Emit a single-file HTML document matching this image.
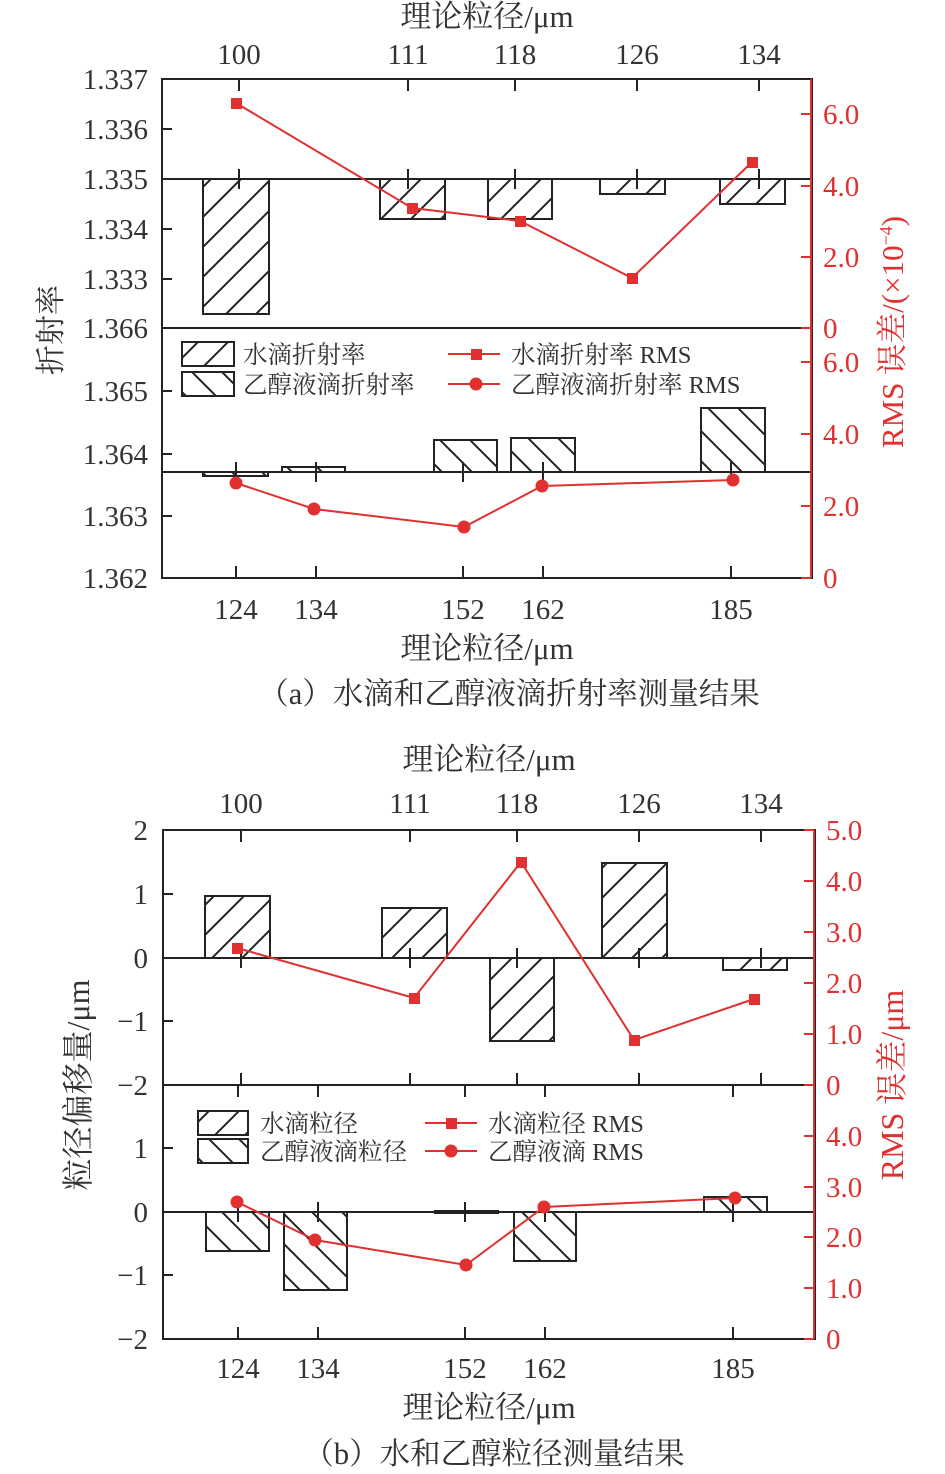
<!DOCTYPE html>
<html><head><meta charset="utf-8"><style>
html,body{margin:0;padding:0;background:#fff;}
svg{display:block;}
text{font-family:"Liberation Serif","Noto Serif CJK SC",serif;fill:#333;}
.r{fill:#e03030;}
</style></head><body>
<svg width="945" height="1474" viewBox="0 0 945 1474" xmlns="http://www.w3.org/2000/svg">
<defs>
<pattern id="hf" patternUnits="userSpaceOnUse" width="30" height="30">
<path d="M-2,32 L32,-2 M-15,15 L15,-15 M15,45 L45,15" stroke="#222" stroke-width="2"/>
</pattern>
<pattern id="hb" patternUnits="userSpaceOnUse" width="30" height="30">
<path d="M-2,-2 L32,32 M-15,15 L15,45 M15,-15 L45,15" stroke="#222" stroke-width="2"/>
</pattern>
</defs>

<!-- ========== Chart (a) ========== -->
<g stroke="#222" stroke-width="2" fill="none">
<rect x="162" y="79" width="650" height="499"/>
<line x1="162" y1="328" x2="812" y2="328"/>
<line x1="162" y1="179" x2="812" y2="179"/>
<line x1="162" y1="472" x2="812" y2="472"/>
<path d="M162,129h10M162,179h10M162,229h10M162,279h10M162,391h10M162,454h10M162,516h10"/>
<path d="M239,79v12M408,79v12M515,79v12M637,79v12M759,79v12"/>
<path d="M239,169v20M408,169v20M515,169v20M637,169v20M759,169v20"/>
<path d="M236,578v-12M316,578v-12M463,578v-12M543,578v-12M731,578v-12"/>
<path d="M236,462v20M316,462v20M463,462v20M543,462v20M731,462v20"/>
</g>
<g stroke="#222" stroke-width="2" fill="url(#hf)">
<rect x="203" y="179" width="66" height="135"/>
<rect x="380" y="179" width="65" height="40"/>
<rect x="488" y="179" width="64" height="40"/>
<rect x="600" y="179" width="65" height="15"/>
<rect x="720" y="179" width="65" height="25"/>
</g>
<g stroke="#222" stroke-width="2" fill="url(#hb)">
<rect x="203" y="472" width="65" height="4"/>
<rect x="282" y="467" width="63" height="5"/>
<rect x="434" y="440" width="63" height="32"/>
<rect x="511" y="438" width="64" height="34"/>
<rect x="701" y="408" width="64" height="64"/>
</g>
<g stroke="#e03030" stroke-width="2" fill="none">
<line x1="811" y1="79" x2="811" y2="578"/>
<path d="M811,114h-10M811,186h-10M811,257h-10M811,328h-10M811,362h-10M811,434h-10M811,506h-10M811,578h-10"/>
<polyline points="236,103 412,208 520,221 632,278 752,162"/>
<polyline points="236,483 314,509 464,527 542,486 733,480"/>
<line x1="448" y1="354" x2="500" y2="354"/>
<line x1="448" y1="384" x2="500" y2="384"/>
</g>
<g fill="#e03030">
<rect x="231" y="98" width="11" height="11"/><rect x="407" y="203" width="11" height="11"/><rect x="515" y="216" width="11" height="11"/><rect x="627" y="273" width="11" height="11"/><rect x="747" y="157" width="11" height="11"/>
<circle cx="236" cy="483" r="6.5"/><circle cx="314" cy="509" r="6.5"/><circle cx="464" cy="527" r="6.5"/><circle cx="542" cy="486" r="6.5"/><circle cx="733" cy="480" r="6.5"/>
<rect x="471" y="349" width="11" height="11"/><circle cx="476" cy="384" r="6.5"/>
</g>
<rect x="182" y="342" width="52" height="24" stroke="#222" stroke-width="2" fill="url(#hf)"/>
<rect x="182" y="372" width="52" height="24" stroke="#222" stroke-width="2" fill="url(#hb)"/>
<g font-size="24.5">
<text x="243" y="363">水滴折射率</text>
<text x="243" y="393">乙醇液滴折射率</text>
<text x="511" y="363">水滴折射率 RMS</text>
<text x="511" y="393">乙醇液滴折射率 RMS</text>
</g>
<g font-size="29" text-anchor="end">
<text x="148" y="89">1.337</text><text x="148" y="139">1.336</text><text x="148" y="189">1.335</text><text x="148" y="239">1.334</text><text x="148" y="289">1.333</text><text x="148" y="338">1.366</text><text x="148" y="401">1.365</text><text x="148" y="464">1.364</text><text x="148" y="526">1.363</text><text x="148" y="588">1.362</text>
</g>
<g font-size="29" text-anchor="middle">
<text x="239" y="64">100</text><text x="408" y="64">111</text><text x="515" y="64">118</text><text x="637" y="64">126</text><text x="759" y="64">134</text>
<text x="236" y="619">124</text><text x="316" y="619">134</text><text x="463" y="619">152</text><text x="543" y="619">162</text><text x="731" y="619">185</text>
<text x="487" y="27" font-size="31">理论粒径/μm</text>
<text x="487" y="659" font-size="31">理论粒径/μm</text>
<text x="509" y="704" font-size="30.5">（a）水滴和乙醇液滴折射率测量结果</text>
</g>
<g font-size="29">
<text class="r" x="823" y="124">6.0</text><text class="r" x="823" y="196">4.0</text><text class="r" x="823" y="267">2.0</text><text class="r" x="823" y="338">0</text><text class="r" x="823" y="372">6.0</text><text class="r" x="823" y="444">4.0</text><text class="r" x="823" y="516">2.0</text><text class="r" x="823" y="588">0</text>
</g>
<text x="61" y="330" font-size="30" text-anchor="middle" transform="rotate(-90 61 330)">折射率</text>
<text x="903" y="332" font-size="31" text-anchor="middle" class="r" transform="rotate(-90 903 332)">RMS 误差/(×10<tspan font-size="18" dy="-11">−4</tspan><tspan dy="11">)</tspan></text>

<!-- ========== Chart (b) ========== -->
<g stroke="#222" stroke-width="2" fill="none">
<rect x="163" y="830" width="652" height="509"/>
<line x1="163" y1="1085" x2="815" y2="1085"/>
<line x1="163" y1="958" x2="815" y2="958"/>
<line x1="163" y1="1212" x2="815" y2="1212"/>
<path d="M163,894h10M163,958h10M163,1021h10M163,1148h10M163,1275h10"/>
<path d="M241,830v12M410,830v12M517,830v12M639,830v12M761,830v12"/>
<path d="M241,948v20M410,948v20M517,948v20M639,948v20M761,948v20"/>
<path d="M241,1085v-12M410,1085v-12M517,1085v-12M639,1085v-12M761,1085v-12"/>
<path d="M238,1339v-12M318,1339v-12M465,1339v-12M545,1339v-12M733,1339v-12"/>
<path d="M238,1085v12M318,1085v12M465,1085v12M545,1085v12M733,1085v12"/>
<path d="M238,1202v20M318,1202v20M465,1202v20M545,1202v20M733,1202v20"/>
</g>
<g stroke="#222" stroke-width="2" fill="url(#hf)">
<rect x="205" y="896" width="65" height="62"/>
<rect x="382" y="908" width="65" height="50"/>
<rect x="490" y="958" width="64" height="83"/>
<rect x="602" y="863" width="65" height="95"/>
<rect x="723" y="958" width="64" height="12"/>
</g>
<g stroke="#222" stroke-width="2" fill="url(#hb)">
<rect x="206" y="1212" width="63" height="39"/>
<rect x="284" y="1212" width="63" height="78"/>
<rect x="435" y="1211" width="63" height="2"/>
<rect x="514" y="1212" width="62" height="49"/>
<rect x="704" y="1197" width="63" height="15"/>
</g>
<g stroke="#e03030" stroke-width="2" fill="none">
<line x1="814" y1="830" x2="814" y2="1339"/>
<path d="M814,830h-10M814,881h-10M814,932h-10M814,983h-10M814,1034h-10M814,1085h-10M814,1136h-10M814,1187h-10M814,1237h-10M814,1288h-10M814,1339h-10"/>
<polyline points="237,948 414,998 521,862 634,1040 754,999"/>
<polyline points="237,1202 315,1240 466,1265 544,1207 735,1198"/>
<line x1="425" y1="1123" x2="477" y2="1123"/>
<line x1="425" y1="1151" x2="477" y2="1151"/>
</g>
<g fill="#e03030">
<rect x="232" y="943" width="11" height="11"/><rect x="409" y="993" width="11" height="11"/><rect x="516" y="857" width="11" height="11"/><rect x="629" y="1035" width="11" height="11"/><rect x="749" y="994" width="11" height="11"/>
<circle cx="237" cy="1202" r="6.5"/><circle cx="315" cy="1240" r="6.5"/><circle cx="466" cy="1265" r="6.5"/><circle cx="544" cy="1207" r="6.5"/><circle cx="735" cy="1198" r="6.5"/>
<rect x="446" y="1118" width="11" height="11"/><circle cx="451" cy="1151" r="6.5"/>
</g>
<rect x="198" y="1111" width="50" height="24" stroke="#222" stroke-width="2" fill="url(#hf)"/>
<rect x="198" y="1139" width="50" height="24" stroke="#222" stroke-width="2" fill="url(#hb)"/>
<g font-size="24.5">
<text x="260" y="1132">水滴粒径</text>
<text x="260" y="1160">乙醇液滴粒径</text>
<text x="488" y="1132">水滴粒径 RMS</text>
<text x="488" y="1160">乙醇液滴 RMS</text>
</g>
<g font-size="29" text-anchor="end">
<text x="148" y="840">2</text><text x="148" y="904">1</text><text x="148" y="968">0</text><text x="148" y="1031">−1</text><text x="148" y="1095">−2</text><text x="148" y="1158">1</text><text x="148" y="1222">0</text><text x="148" y="1285">−1</text><text x="148" y="1349">−2</text>
</g>
<g font-size="29" text-anchor="middle">
<text x="241" y="813">100</text><text x="410" y="813">111</text><text x="517" y="813">118</text><text x="639" y="813">126</text><text x="761" y="813">134</text>
<text x="238" y="1378">124</text><text x="318" y="1378">134</text><text x="465" y="1378">152</text><text x="545" y="1378">162</text><text x="733" y="1378">185</text>
<text x="489" y="770" font-size="31">理论粒径/μm</text>
<text x="489" y="1418" font-size="31">理论粒径/μm</text>
<text x="494" y="1464" font-size="30.5">（b）水和乙醇粒径测量结果</text>
</g>
<g font-size="29">
<text class="r" x="826" y="840">5.0</text><text class="r" x="826" y="891">4.0</text><text class="r" x="826" y="942">3.0</text><text class="r" x="826" y="993">2.0</text><text class="r" x="826" y="1044">1.0</text><text class="r" x="826" y="1095">0</text><text class="r" x="826" y="1146">4.0</text><text class="r" x="826" y="1197">3.0</text><text class="r" x="826" y="1247">2.0</text><text class="r" x="826" y="1298">1.0</text><text class="r" x="826" y="1349">0</text>
</g>
<text x="89" y="1085" font-size="32" text-anchor="middle" transform="rotate(-90 89 1085)">粒径偏移量/μm</text>
<text x="903" y="1085" font-size="32" text-anchor="middle" class="r" transform="rotate(-90 903 1085)">RMS 误差/μm</text>
</svg>
</body></html>
